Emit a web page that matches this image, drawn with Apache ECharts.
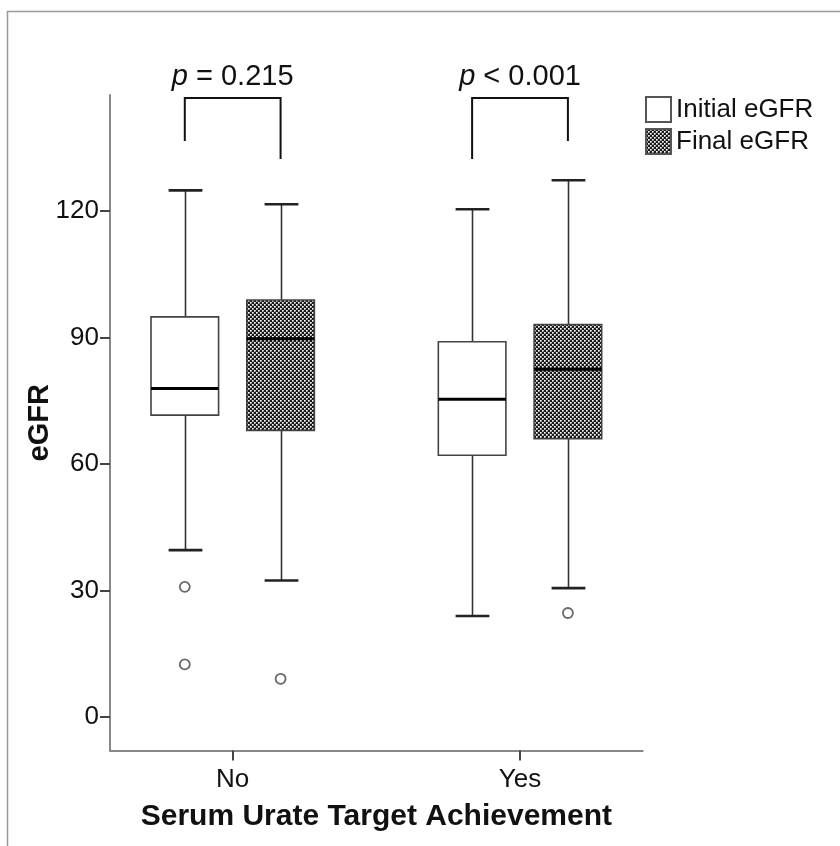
<!DOCTYPE html>
<html>
<head>
<meta charset="utf-8">
<script src="https://cdn.jsdelivr.net/npm/echarts@6/dist/echarts.min.js"></script>
<style>
html,body{margin:0;padding:0;background:#fff;}
#chart{width:840px;height:846px;}
</style>
</head>
<body>
<div id="chart"></div>
<script>
// ---- data ----
const categories = ['No', 'Yes'];
const seriesNames = ['Initial eGFR', 'Final eGFR'];
// [min, Q1, median, Q3, max] per category
const initialStats = [[39.6, 71.6, 77.9, 94.9, 124.9], [24.0, 62.1, 75.4, 89.0, 120.4]];
const finalStats   = [[32.4, 68.0, 89.7, 98.9, 121.6], [30.6, 66.0, 82.5, 93.1, 127.3]];
// [category index, value]
const initialOutliers = [[0, 30.9], [0, 12.5]];
const finalOutliers   = [[0, 9.1], [1, 24.7]];
const pTexts = ['= 0.215', '< 0.001'];
const bracketTop = [146.8, 146.8];
const bracketLeftEnd = [136.6, 132.3];
const bracketRightEnd = [132.3, 136.6];
const pTextValue = [151.7, 151.7];
const yTicks = [0, 30, 60, 90, 120];
const xTicks = [0, 1];

// ---- layout constants ----
const OFFSET = 0.1667;     // box centre offset from category (axis units)
const HALF_W = 0.1176;     // half box width (axis units)
const FONT = "'Liberation Sans', Arial, Helvetica, sans-serif";

// hatch pattern
function makePattern() {
  const c = document.createElement('canvas');
  c.width = 4; c.height = 4;
  const g = c.getContext('2d');
  g.fillStyle = '#1a1a1a'; g.fillRect(0, 0, 4, 4);
  const dot = (x, y) => {
    g.fillStyle = '#ffffff'; g.fillRect(x, y, 1, 1);
    g.fillStyle = '#b8b8b8'; g.fillRect(x + 1, y, 1, 1); g.fillRect(x, y + 1, 1, 1);
    g.fillStyle = '#707070'; g.fillRect(x + 1, y + 1, 1, 1);
  };
  dot(0, 0); dot(2, 2);
  return { image: c, repeat: 'repeat' };
}
const pattern = makePattern();

function boxRenderer(offset, fill) {
  return function (params, api) {
    const xc = api.value(0) + offset;
    const vMin = api.value(1), q1 = api.value(2), med = api.value(3), q3 = api.value(4), vMax = api.value(5);
    const left = api.coord([xc - HALF_W, q1])[0];
    const right = api.coord([xc + HALF_W, q1])[0];
    const cx = Math.round(api.coord([xc, q1])[0]) + 0.5;
    const yMin = api.coord([xc, vMin])[1];
    const yQ1 = api.coord([xc, q1])[1];
    const yMed = api.coord([xc, med])[1];
    const yQ3 = api.coord([xc, q3])[1];
    const yMax = api.coord([xc, vMax])[1];
    const capHalf = (right - left) / 4;
    const lineStyle = { stroke: '#333', lineWidth: 1.6 };
    return {
      type: 'group',
      children: [
        { type: 'line', shape: { x1: cx, y1: yQ3, x2: cx, y2: yMax }, style: lineStyle },
        { type: 'line', shape: { x1: cx, y1: yQ1, x2: cx, y2: yMin }, style: lineStyle },
        { type: 'line', shape: { x1: cx - capHalf, y1: yMax, x2: cx + capHalf, y2: yMax }, style: { stroke: '#222', lineWidth: 2.6 } },
        { type: 'line', shape: { x1: cx - capHalf, y1: yMin, x2: cx + capHalf, y2: yMin }, style: { stroke: '#222', lineWidth: 2.6 } },
        { type: 'rect', shape: { x: left, y: yQ3, width: right - left, height: yQ1 - yQ3 },
          style: { fill: fill, stroke: '#444', lineWidth: 1.6 } },
        { type: 'line', shape: { x1: left, y1: yMed, x2: right, y2: yMed }, style: { stroke: '#000', lineWidth: 3 } }
      ]
    };
  };
}

function bracketRenderer(params, api) {
  const c = api.value(0);
  const top = api.value(1), lEnd = api.value(2), rEnd = api.value(3), tv = api.value(4);
  const pL = api.coord([c - OFFSET, top]);
  const pR = api.coord([c + OFFSET, top]);
  const yL = api.coord([c - OFFSET, lEnd])[1];
  const yR = api.coord([c + OFFSET, rEnd])[1];
  const pt = api.coord([c, tv]);
  const st = { stroke: '#111', lineWidth: 2, fill: null };
  return {
    type: 'group',
    children: [
      { type: 'polyline', shape: { points: [[pL[0], yL], [pL[0], pL[1]], [pR[0], pR[1]], [pR[0], yR]] }, style: st },
      { type: 'text', x: pt[0], y: pt[1],
        style: { text: '{i|p} ' + pTexts[params.dataIndex], x: 0, y: 0, align: 'center', verticalAlign: 'middle',
          font: '29px ' + FONT, fill: '#111',
          rich: { i: { fontStyle: 'italic', fontSize: 29, fontFamily: FONT, fill: '#111' } } } }
    ]
  };
}

const chart = echarts.init(document.getElementById('chart'), null, { renderer: 'canvas' });
const option = {
  backgroundColor: '#fff',
  animation: false,
  textStyle: { fontFamily: FONT },
  graphic: [
    { type: 'rect', shape: { x: 7.5, y: 11.5, width: 900, height: 900 },
      style: { fill: null, stroke: '#999', lineWidth: 1.5 }, silent: true, z: -10 }
  ],
  grid: { left: 110, right: 197.3, top: 95, bottom: 95.5, containLabel: false },
  legend: {
    orient: 'vertical', left: 640, top: 91,
    itemWidth: 25, itemHeight: 25, itemGap: 5,
    selectedMode: false,
    textStyle: { fontSize: 26, color: '#111', fontFamily: FONT },
    data: [
      { name: seriesNames[0], icon: 'rect', itemStyle: { color: '#fff', borderColor: '#555', borderWidth: 2 } },
      { name: seriesNames[1], icon: 'rect', itemStyle: { color: pattern, borderColor: '#555', borderWidth: 2 } }
    ]
  },
  xAxis: {
    type: 'value', min: -0.427, max: 1.427,
    name: 'Serum Urate Target Achievement', nameLocation: 'middle', nameGap: 51, nameMoveOverlap: false,
    nameTextStyle: { fontSize: 30, fontWeight: 'bold', color: '#111', fontFamily: FONT },
    axisLine: { show: true, onZero: false, lineStyle: { color: '#888', width: 2 } },
    axisTick: { show: true, inside: false, length: 10, customValues: xTicks, lineStyle: { color: '#444', width: 2 } },
    axisLabel: { customValues: xTicks, margin: 16, fontSize: 26, color: '#111', fontFamily: FONT,
      formatter: v => categories[Math.round(v)] },
    splitLine: { show: false }
  },
  yAxis: {
    type: 'value', min: -7.9, max: 147.5,
    name: 'eGFR', nameLocation: 'middle', nameGap: 56, nameMoveOverlap: false,
    nameTextStyle: { fontSize: 29, fontWeight: 'bold', color: '#111', fontFamily: FONT },
    axisLine: { show: true, onZero: false, lineStyle: { color: '#888', width: 2 } },
    axisTick: { show: true, inside: false, length: 10, customValues: yTicks, lineStyle: { color: '#444', width: 2 } },
    axisLabel: { customValues: yTicks, margin: 11, fontSize: 26, color: '#111', fontFamily: FONT },
    splitLine: { show: false }
  },
  series: [
    { name: seriesNames[0], type: 'custom', renderItem: boxRenderer(-OFFSET, '#fff'),
      itemStyle: { color: '#fff' }, encode: { x: 0, y: [1, 2, 3, 4, 5] },
      data: initialStats.map((s, i) => [i].concat(s)) },
    { name: seriesNames[1], type: 'custom', renderItem: boxRenderer(OFFSET, pattern),
      itemStyle: { color: pattern }, encode: { x: 0, y: [1, 2, 3, 4, 5] },
      data: finalStats.map((s, i) => [i].concat(s)) },
    { name: 'outliersInitial', type: 'scatter', symbol: 'circle', symbolSize: 10,
      itemStyle: { color: '#fff', borderColor: '#444', borderWidth: 1.8 },
      data: initialOutliers.map(([c, v]) => [c - OFFSET, v]) },
    { name: 'outliersFinal', type: 'scatter', symbol: 'circle', symbolSize: 10,
      itemStyle: { color: '#fff', borderColor: '#444', borderWidth: 1.8 },
      data: finalOutliers.map(([c, v]) => [c + OFFSET, v]) },
    { name: 'brackets', type: 'custom', renderItem: bracketRenderer, clip: false, silent: true,
      encode: { x: 0, y: [1, 2, 3, 4] },
      data: categories.map((c, i) => [i, bracketTop[i], bracketLeftEnd[i], bracketRightEnd[i], pTextValue[i]]) }
  ]
};
chart.setOption(option);
</script>
</body>
</html>
